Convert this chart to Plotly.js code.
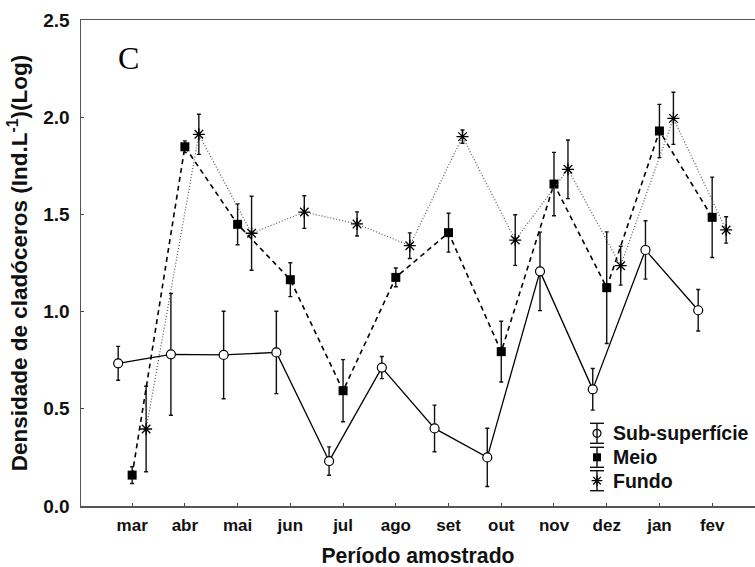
<!DOCTYPE html>
<html>
<head>
<meta charset="utf-8">
<script src="https://cdn.plot.ly/plotly-3.0.1.min.js"></script>
<style>html,body{margin:0;padding:0;background:#fff;}#chart{width:755px;height:567px;}</style>
</head>
<body>
<div id="chart"></div>
<script>
var months = ['mar','abr','mai','jun','jul','ago','set','out','nov','dez','jan','fev'];
var subVals = [0.734,0.780,0.777,0.790,0.231,0.712,0.399,0.250,1.207,0.600,1.317,1.007];
var subErr  = [0.087,0.313,0.225,0.212,0.073,0.057,0.120,0.150,0.202,0.107,0.150,0.107];
var meioVals = [0.159,1.848,1.449,1.164,0.593,1.176,1.406,0.794,1.656,1.123,1.929,1.485];
var meioErr  = [0.043,0.030,0.105,0.087,0.160,0.048,0.100,0.156,0.163,0.287,0.137,0.207];
var fundoVals = [0.396,1.912,1.403,1.512,1.451,1.339,1.900,1.368,1.732,1.236,1.994,1.420];
var fundoErr  = [0.220,0.103,0.190,0.084,0.062,0.066,0.034,0.130,0.151,0.100,0.134,0.068];
var seriesNames = ['Sub-superfície','Meio','Fundo'];

var W = 755, H = 567, ML = 81, MR = 0, MT = 20, MB = 61;
var PW = W - ML - MR, PH = H - MT - MB;
var off = 0.265;
function xs(o){ return months.map(function(m,i){ return i + o; }); }
var errStyle = {type:'data', visible:true, color:'#111', thickness:1.4, width:2};

var mkSub = {symbol:'circle', size:9, color:'#fff', line:{color:'#000', width:1.2}};
var mkMeio = {symbol:'square', size:9, color:'#000'};
var mkFundo = {symbol:'asterisk-open', size:10, color:'#000', line:{color:'#000', width:1.3}};

var tSub = {x: xs(-off), y: subVals, mode:'lines+markers', name:seriesNames[0], showlegend:false,
  error_y: Object.assign({array: subErr}, errStyle),
  line:{color:'#000', width:1.3}, marker: mkSub};
var tMeio = {x: xs(0), y: meioVals, mode:'lines+markers', name:seriesNames[1], showlegend:false,
  error_y: Object.assign({array: meioErr}, errStyle),
  line:{color:'#000', width:1.6, dash:'5px,4px'}, marker: mkMeio};
var tFundo = {x: xs(off), y: fundoVals, mode:'lines+markers', name:seriesNames[2], showlegend:false,
  error_y: Object.assign({array: fundoErr}, errStyle),
  line:{color:'#555', width:1.2, dash:'1px,2px'}, marker: mkFundo};

function px2x(p){ return (p - ML) / PW; }
function py2y(p){ return (H - MB - p) / PH; }

// manual legend (symbol with error-bar glyph + text)
var glyphX = 597, rows = [433.3, 457.3, 480.7], textX = 611;
var shapes = [], annotations = [], legendTraces = [];
var mks = [mkSub, mkMeio, mkFundo];
rows.forEach(function(ry, k){
  var t = ry - 10, b = ry + 10;
  shapes.push({type:'line', xref:'paper', yref:'paper', x0:px2x(glyphX), x1:px2x(glyphX), y0:py2y(t), y1:py2y(b), line:{color:'#111', width:1.4}});
  shapes.push({type:'line', xref:'paper', yref:'paper', x0:px2x(glyphX-7), x1:px2x(glyphX+7), y0:py2y(t), y1:py2y(t), line:{color:'#111', width:1.4}});
  shapes.push({type:'line', xref:'paper', yref:'paper', x0:px2x(glyphX-7), x1:px2x(glyphX+7), y0:py2y(b), y1:py2y(b), line:{color:'#111', width:1.4}});
  annotations.push({text:seriesNames[k], xref:'paper', yref:'paper', x:px2x(textX), y:py2y(ry), xanchor:'left', yanchor:'middle',
    showarrow:false, font:{size:19.5, weight:'bold', color:'#111'}});
  legendTraces.push({x:[px2x(glyphX)], y:[py2y(ry)], xaxis:'x2', yaxis:'y2', mode:'markers', showlegend:false,
    marker: Object.assign({}, mks[k], {size: mks[k].size - 1})});
});
annotations.push({text:'C', xref:'paper', yref:'paper', x:px2x(128), y:py2y(58.5), xanchor:'center', yanchor:'middle',
  showarrow:false, font:{family:'Liberation Serif, Times New Roman, serif', size:32, color:'#000', weight:'normal'}});

var layout = {
  width: W, height: H,
  margin: {l:ML, r:MR, t:MT, b:MB, pad:0},
  paper_bgcolor:'#fff', plot_bgcolor:'#fff',
  font: {family:'Liberation Sans, Arial, sans-serif', color:'#111', weight:'bold'},
  showlegend:false,
  xaxis: {
    range: [-0.97, -0.97 + PW/52.73],
    tickmode:'array', tickvals: months.map(function(m,i){return i;}), ticktext: months,
    ticks:'inside', ticklen:3, tickcolor:'#444', tickwidth:1,
    showline:true, linecolor:'#555', linewidth:1.5, mirror:true,
    showgrid:false, zeroline:false,
    tickfont:{size:17, weight:'bold', color:'#111'},
    ticklabelstandoff:3,
    title:{text:'Período amostrado', font:{size:21.2, weight:'bold', color:'#111'}, standoff:20}
  },
  yaxis: {
    range:[0, 2.5], dtick:0.5, tick0:0, tickformat:'.1f',
    ticks:'inside', ticklen:3, tickcolor:'#444', tickwidth:1,
    showline:true, linecolor:'#555', linewidth:1.5, mirror:false,
    showgrid:false, zeroline:false,
    tickfont:{size:19, weight:'bold', color:'#111'},
    ticklabelstandoff:6,
    title:{text:'Densidade de cladóceros (Ind.L<sup>-1</sup>)(Log)', font:{size:22.5, weight:'bold', color:'#111'}, standoff:9}
  },
  xaxis2: {overlaying:'x', range:[0,1], visible:false, anchor:'y2'},
  yaxis2: {overlaying:'y', range:[0,1], visible:false, anchor:'x2'},
  shapes: shapes,
  annotations: annotations
};

Plotly.newPlot('chart', [tSub, tMeio, tFundo].concat(legendTraces), layout, {staticPlot:true, displayModeBar:false});
</script>
</body>
</html>
